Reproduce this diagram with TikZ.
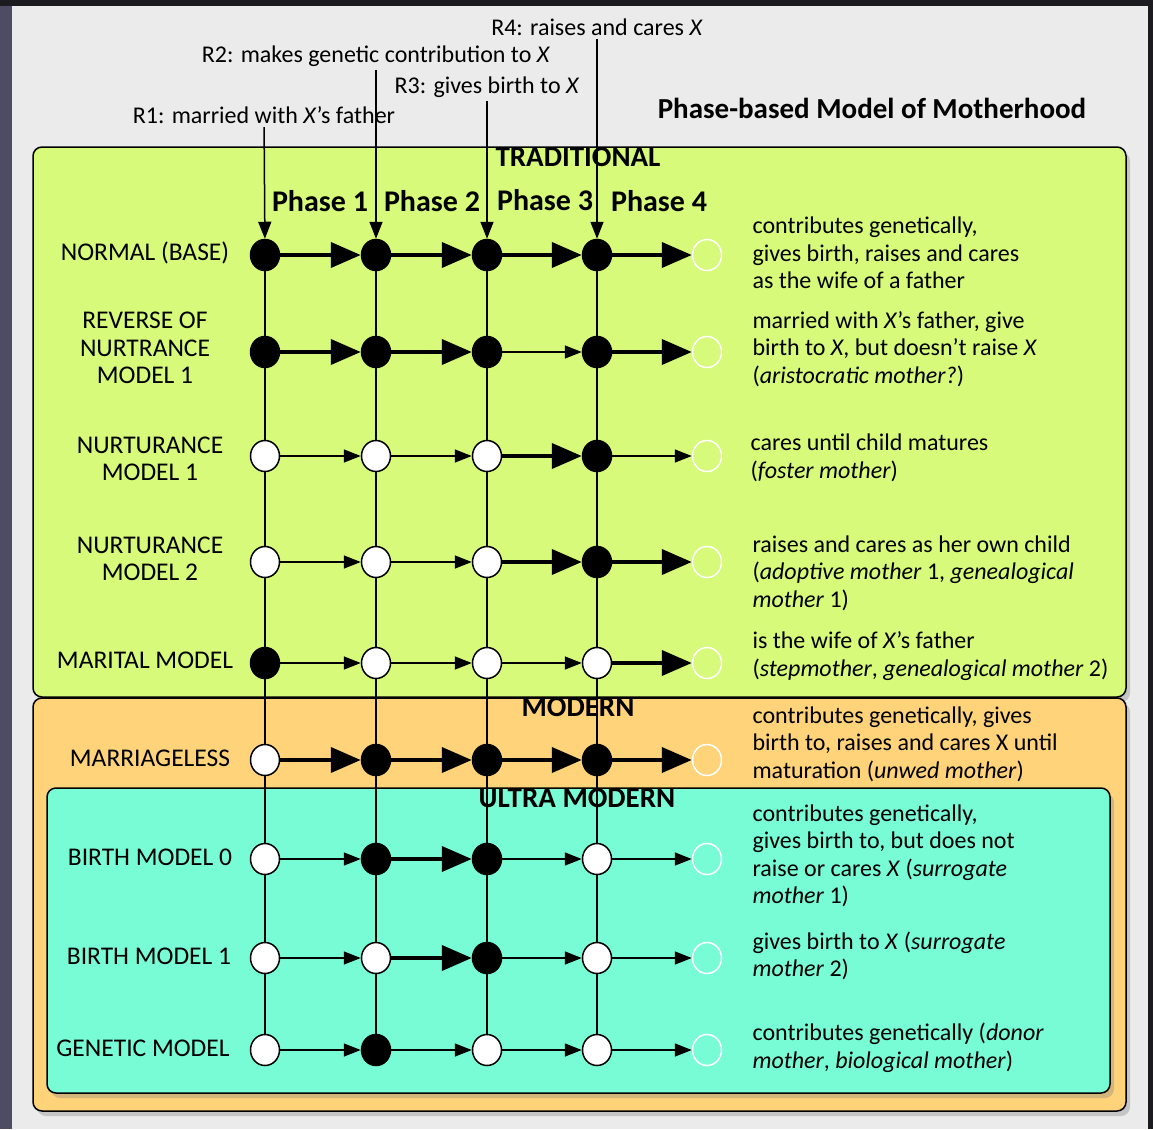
\documentclass[tikz,border=0pt]{standalone}
\usepackage{fontspec}
\setmainfont{Carlito}
\usetikzlibrary{arrows.meta,positioning,shapes.geometric,shadows}
\definecolor{tradgreen}{RGB}{215,250,122}
\definecolor{modorange}{RGB}{255,211,122}
\definecolor{ultracyan}{RGB}{120,252,214}
\definecolor{panelgray}{RGB}{235,235,235}
\definecolor{framedark}{RGB}{28,28,32}
\definecolor{framepurple}{RGB}{78,75,100}

\begin{document}
\begin{tikzpicture}[
  x=1pt,y=-1pt,
  font={\fontsize{24}{27.5}\selectfont},
  region/.style={draw,line width=1.5pt,rounded corners=9pt,
    drop shadow={shadow xshift=4pt,shadow yshift=-5pt,opacity=0.35}},
  bdot/.style={ellipse,draw,line width=1.5pt,fill=black,minimum width=29pt,minimum height=31pt,inner sep=0pt},
  wdot/.style={ellipse,draw,line width=1.5pt,fill=white,minimum width=29pt,minimum height=31pt,inner sep=0pt},
  edot/.style={ellipse,draw=white,line width=1.5pt,minimum width=29pt,minimum height=31pt,inner sep=0pt},
  thk/.style={line width=4pt,-{Triangle[length=30pt,width=25pt]}},
  thn/.style={line width=1.5pt,-{Triangle[length=17pt,width=13pt]}},
  vline/.style={line width=1.5pt},
  rowlabel/.style={align=center,font={\fontsize{25.5}{27.5}\selectfont}},
  desc/.style={align=left,anchor=west},
  head/.style={font={\fontsize{29}{30}\selectfont\bfseries}}
]
\useasboundingbox (0,0) rectangle (1153,1129);
% frame and panel
\fill[framedark] (0,0) rectangle (1153,1129);
\fill[framepurple] (0,6) rectangle (12,1129);
\fill[panelgray] (12,6) rectangle (1148,1129);

% era regions
\draw[region,fill=tradgreen] (33,147) rectangle (1126,697);
\draw[region,fill=modorange] (33,698) rectangle (1126,1111);
\draw[region,fill=ultracyan] (47,788) rectangle (1110,1093);

\node[head] (trad) at (578,157) {TRADITIONAL};
\node[head] (modern) at (578,707) {MODERN};
\node[head] (ultra) at (577,798) {ULTRA MODERN};
\node[font={\fontsize{29}{30}\selectfont\bfseries}] (title) at (872,108) {Phase-based Model of Motherhood};

% roles
\node (r4) at (597,27) {R4: raises and cares \textit{X}};
\node (r2) at (376,56) {R2: makes genetic contribution to \textit{X}};
\node (r3) at (487,87) {R3: gives birth to \textit{X}};
\node (r1) at (264,115) {R1: married with \textit{X}'s father};

% phases
\node[head,font={\fontsize{30}{30}\selectfont\bfseries}] (p1) at (320,201) {Phase 1};
\node[head,font={\fontsize{30}{30}\selectfont\bfseries}] (p2) at (432,201) {Phase 2};
\node[head,font={\fontsize{30}{30}\selectfont\bfseries}] (p3) at (545,200) {Phase 3};
\node[head,font={\fontsize{30}{30}\selectfont\bfseries}] (p4) at (659,201) {Phase 4};

% model names
\node[rowlabel] (l1) at (145,253) {NORMAL (BASE)};
\node[rowlabel] (l2) at (145,348) {REVERSE OF\\NURTRANCE\\MODEL 1};
\node[rowlabel] (l3) at (150,459) {NURTURANCE\\MODEL 1};
\node[rowlabel] (l4) at (150,559) {NURTURANCE\\MODEL 2};
\node[rowlabel] (l5) at (145,660) {MARITAL MODEL};
\node[rowlabel] (l6) at (150,758) {MARRIAGELESS};
\node[rowlabel] (l7) at (150,857) {BIRTH MODEL 0};
\node[rowlabel] (l8) at (149,956) {BIRTH MODEL 1};
\node[rowlabel] (l9) at (143,1048) {GENETIC MODEL};

% descriptions
\node[desc] (d1) at (749,253) {contributes genetically,\\gives birth, raises and cares\\as the wife of a father};
\node[desc] (d2) at (749,349) {married with \textit{X}'s father, give\\birth to \textit{X}, but doesn't raise \textit{X}\\(\textit{aristocratic mother?})};
\node[desc] (d3) at (747,458) {cares until child matures\\(\textit{foster mother})};
\node[desc] (d4) at (749,573) {raises and cares as her own child\\(\textit{adoptive mother} 1, \textit{genealogical}\\\textit{mother} 1)};
\node[desc] (d5) at (749,656) {is the wife of \textit{X}'s father\\(\textit{stepmother}, \textit{genealogical mother} 2)};
\node[desc] (d6) at (749,744) {contributes genetically, gives\\birth to, raises and cares X until\\maturation (\textit{unwed mother})};
\node[desc] (d7) at (749,856) {contributes genetically,\\gives birth to, but does not\\raise or cares \textit{X} (\textit{surrogate}\\\textit{mother} 1)};
\node[desc] (d8) at (749,956) {gives birth to \textit{X} (\textit{surrogate}\\\textit{mother} 2)};
\node[desc] (d9) at (749,1048) {contributes genetically (\textit{donor}\\\textit{mother}, \textit{biological mother})};

% phase grid: row/y/fills/arrows
\foreach \r/\y/\fa/\fb/\fc/\fd/\sa/\sb/\sc/\sd in {
  1/255/bdot/bdot/bdot/bdot/thk/thk/thk/thk,
  2/352/bdot/bdot/bdot/bdot/thk/thk/thn/thk,
  3/456/wdot/wdot/wdot/bdot/thn/thn/thk/thn,
  4/562/wdot/wdot/wdot/bdot/thn/thn/thk/thk,
  5/663/bdot/wdot/wdot/wdot/thn/thn/thn/thk,
  6/760/wdot/bdot/bdot/bdot/thk/thk/thk/thk,
  7/859/wdot/bdot/bdot/wdot/thn/thk/thn/thn,
  8/958/wdot/wdot/bdot/wdot/thn/thk/thn/thn,
  9/1050/wdot/bdot/wdot/wdot/thn/thn/thn/thn}{
  \node[\fa] (m\r-1) at (265,\y) {};
  \node[\fb] (m\r-2) at (376,\y) {};
  \node[\fc] (m\r-3) at (487,\y) {};
  \node[\fd] (m\r-4) at (597,\y) {};
  \node[edot] (m\r-5) at (707,\y) {};
  \draw[\sa] (m\r-1) -- (m\r-2);
  \draw[\sb] (m\r-2) -- (m\r-3);
  \draw[\sc] (m\r-3) -- (m\r-4);
  \draw[\sd] (m\r-4) -- (m\r-5);
}
\foreach \c in {1,...,4}{
  \foreach \r [count=\s from 2] in {1,...,8}
    \draw[vline] (m\r-\c) -- (m\s-\c);
}

\draw[thn] (r1) -- (m1-1);
\draw[thn] (r2) -- (m1-2);
\draw[thn] (r3) -- (m1-3);
\draw[thn] (r4) -- (m1-4);
\end{tikzpicture}
\end{document}
